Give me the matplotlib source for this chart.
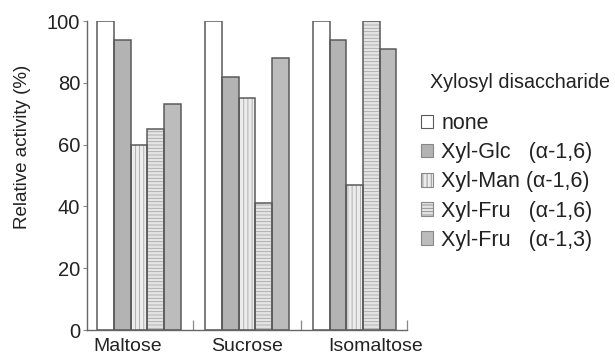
import matplotlib
matplotlib.use("Agg")
import matplotlib.pyplot as plt
import numpy as np
from matplotlib.patches import Patch

plt.rcParams["font.family"] = ["Liberation Sans", "DejaVu Sans"]
plt.rcParams["hatch.linewidth"] = 0.6

groups = ["Maltose", "Sucrose", "Isomaltose"]
series = ["none", "Xyl-Glc   (\u03b1-1,6)", "Xyl-Man (\u03b1-1,6)",
          "Xyl-Fru   (\u03b1-1,6)", "Xyl-Fru   (\u03b1-1,3)"]
none_vals = [100, 100, 100]
glc16 = [94, 82, 94]
man16 = [60, 75, 47]
fru16 = [65, 41, 100]
fru13 = [73, 88, 91]
values = [none_vals, glc16, man16, fru16, fru13]

faces = ["white", "#b3b3b3", "#ececec", "#e4e4e4", "#bcbcbc"]
hatches = [None, None, "||||", "-----", None]
edge = "#5a5a5a"

fig = plt.figure(figsize=(6.15, 3.56), dpi=100)
W, H = 615, 356
ax = fig.add_axes([87 / W, 1 - 330 / H, (407 - 87) / W, (330 - 21) / H])

x = np.arange(len(groups))
w = 0.1545
for i, vals in enumerate(values):
    pos = x + (i - 2) * w
    ax.bar(pos, vals, w, color=faces[i], edgecolor="#a8a8a8" if hatches[i] else faces[i],
           hatch=hatches[i], linewidth=0, zorder=2)
    ax.bar(pos, vals, w, fill=False, edgecolor=edge, linewidth=1.1, zorder=3)

ax.set_xlim(-0.483, 2.485)
ax.set_ylim(0, 100)
ax.set_yticks([0, 20, 40, 60, 80, 100])
ax.tick_params(axis="y", direction="out", length=3, width=0.8, colors="#888888",
               labelcolor="#222222", labelsize=14.5, pad=2)
ax.set_xticks([-0.11, 1.0, 2.19])
ax.set_xticklabels(groups)
ax.tick_params(axis="x", length=0, labelsize=14, labelcolor="#222222", pad=5.5)
ax.set_xticks([0.5, 1.5, 2.485], minor=True)
ax.tick_params(axis="x", which="minor", direction="in", length=7, width=0.9, color="#888888")
for s in ["top", "right"]:
    ax.spines[s].set_visible(False)
for s in ["left", "bottom"]:
    ax.spines[s].set_color("#666666")
    ax.spines[s].set_linewidth(1.0)

fig.text(23 / W, 1 - 147 / H, "Relative activity (%)", rotation=90, fontsize=13.5,
         ha="center", va="center", color="#222222")

fig.text(430 / W, 1 - 82 / H, "Xylosyl disaccharide", fontsize=14.2,
         ha="left", va="center", color="#222222")

handles = [Patch(facecolor=faces[i], edgecolor=edge if i in (0,) else "#888888",
                 hatch=hatches[i], linewidth=0.8) for i in range(len(series))]
fig.legend(handles, series, loc="upper left", bbox_to_anchor=(421 / W, 1 - 113 / H),
           frameon=False, fontsize=15.5, handlelength=0.55, handleheight=0.6,
           handletextpad=0.4, labelspacing=0.38, borderpad=0, borderaxespad=0,
           labelcolor="#222222")

fig.savefig("out.png", dpi=100)
